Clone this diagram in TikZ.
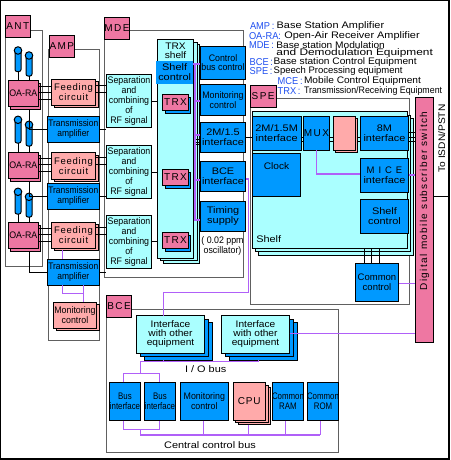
\documentclass[tikz,border=0pt]{standalone}
\usepackage{fontspec}
\setmainfont{Liberation Sans}
\newfontfamily\lsp[LetterSpace=14]{Liberation Sans}
\newfontfamily\lspb[LetterSpace=8]{Liberation Sans}
\newfontfamily\lnar[FakeStretch=.83]{Liberation Sans}
\newfontfamily\ltr[FakeStretch=.89]{Liberation Sans}
\newfontfamily\lmid[FakeStretch=.93]{Liberation Sans}
\newfontfamily\lw[FakeStretch=1.07]{Liberation Sans}
\newfontfamily\lx[FakeStretch=1.15]{Liberation Sans}
\newfontfamily\ly[FakeStretch=1.25]{Liberation Sans}
\definecolor{cpink}{HTML}{EE77A2}
\definecolor{csalm}{HTML}{FFAAAA}
\definecolor{ccyan}{HTML}{AAFFFF}
\definecolor{cblue}{HTML}{0099FF}
\definecolor{cpurp}{HTML}{B060F8}
\definecolor{cgray}{HTML}{606060}
\definecolor{cleg}{HTML}{2050F0}
\tikzset{
  base/.style={draw=black,line width=1pt,inner sep=0pt,outer sep=0pt,align=center,font=\lx\fontsize{9.5}{10}\selectfont},
  pinkb/.style={base,fill=cpink},
  salmb/.style={base,fill=csalm},
  cyanb/.style={base,fill=ccyan},
  blueb/.style={base,fill=cblue},
  blueflat/.style={base,draw=none,fill=cblue},
  tag/.style={pinkb,font=\lsp\fontsize{10}{10}\selectfont},
  grp/.style={draw=cgray,line width=1pt,inner sep=0pt,outer sep=0pt},
  spaced/.style={font=\lspb\fontsize{9.5}{10}\selectfont},
  wide/.style={font=\lw\fontsize{9.5}{10}\selectfont},
  plain/.style={font=\fontsize{9.5}{9.5}\selectfont},
  narrow/.style={font=\lnar\fontsize{9.5}{10}\selectfont},
  trans/.style={font=\ltr\fontsize{9.5}{10}\selectfont},
  mid/.style={font=\lmid\fontsize{9.5}{10}\selectfont},
  midn/.style={font=\lmid\fontsize{9.5}{9}\selectfont},
  extra/.style={font=\lx\fontsize{9.5}{9.5}\selectfont},
  sigl/.style={black,line width=.9pt},
  busl/.style={cpurp,line width=1.4pt},
  txt/.style={inner sep=0pt,outer sep=0pt,align=center,font=\lx\fontsize{9.5}{10}\selectfont},
  legb/.style={inner sep=0pt,outer sep=0pt,anchor=west,text=cleg,font=\lmid\fontsize{10}{9}\selectfont},
  legt/.style={inner sep=0pt,outer sep=0pt,anchor=west,font=\lx\fontsize{9.5}{10}\selectfont},
  legw/.style={inner sep=0pt,outer sep=0pt,anchor=west,font=\lw\fontsize{9.5}{10}\selectfont},
  legp/.style={inner sep=0pt,outer sep=0pt,anchor=west,font=\fontsize{9.5}{10}\selectfont},
  legn/.style={inner sep=0pt,outer sep=0pt,anchor=west,font=\lmid\fontsize{9.5}{10}\selectfont},
}
% [style]{name}{x1}{y1}{x2}{y2}{text}
\newcommand\blk[7][]{%
  \pgfmathsetmacro\bw{#5-#3}\pgfmathsetmacro\bh{#6-#4}%
  \pgfmathsetmacro\bx{(#3+#5)/2}\pgfmathsetmacro\by{(#4+#6)/2}%
  \node[#1,minimum width=\bw pt,minimum height=\bh pt] (#2) at (\bx,\by) {#7};}
% {name}{x}{top}{bottom}
\newcommand\antn[4]{%
  \pgfmathsetmacro\bh{#4-#3-2}\pgfmathsetmacro\by{(#3+#4)/2+1}\pgfmathsetmacro\bc{#3+3.5}%
  \node[base,fill=cblue,minimum width=6pt,minimum height=\bh pt,rounded corners=2pt] (#1) at (#2,\by) {};
  \node[base,fill=cblue,circle,minimum size=7.5pt] (#1k) at (#2,\bc) {};}
\begin{document}
\begin{tikzpicture}[x=1pt,y=-1pt]
\useasboundingbox (0,0) rectangle (450,460);
\fill[white] (0,0) rectangle (450,460);
\node[draw=black,line width=1.4pt,inner sep=0pt,outer sep=0pt,minimum width=449pt,minimum height=459pt] (frame) at (224.5,229.5) {};
% group boxes
\blk[grp]{antg}{5.3}{30.3}{42.7}{266}{}
\blk[grp]{ampg}{48.5}{50}{99.5}{340}{}
\blk[grp]{mdeg}{104.5}{30.5}{243}{277}{}
\blk[grp]{speg}{250.3}{98.3}{409.3}{304}{}
\blk[grp]{bceg}{106.3}{309.3}{338.3}{452}{}
% tags
\blk[tag]{anttag}{5.3}{15.3}{30.3}{37.3}{ANT}
\blk[tag]{amptag}{49.3}{35.3}{74.3}{57.3}{AMP}
\blk[tag]{mdetag}{104.5}{17.5}{129.5}{39.5}{MDE}
\blk[tag]{spetag}{250.3}{85.3}{276}{107.3}{SPE}
\blk[tag]{bcetag}{106.3}{295.3}{131.7}{317.3}{BCE}
% antennas
\antn{a1}{18}{47}{71.5}\antn{b1}{29}{52}{76}
\antn{a2}{18}{116.3}{143}\antn{b2}{29}{121.3}{146}
\antn{a3}{18}{188.3}{214}\antn{b3}{29}{193.3}{217}
% OA-RA
\blk[pinkb]{oa1b}{10.5}{83}{40.7}{109.3}{}
\blk[pinkb,mid]{oa1}{8.3}{80.3}{38.3}{106.7}{OA-RA}
\blk[pinkb]{oa2b}{10.5}{155}{40.7}{181.7}{}
\blk[pinkb,mid]{oa2}{8.3}{152.3}{38.3}{178.7}{OA-RA}
\blk[pinkb]{oa3b}{10.5}{225}{40.7}{251.3}{}
\blk[pinkb,mid]{oa3}{8.3}{222}{38.3}{248.3}{OA-RA}
% feeding
\blk[salmb]{f1b}{54}{81.5}{98.7}{107.7}{}
\blk[salmb,spaced]{f1}{51.3}{79.3}{95.7}{105.7}{Feeding\\circuit}
\blk[salmb]{f2b}{54}{155}{98.7}{181.7}{}
\blk[salmb,spaced]{f2}{51.3}{152.7}{95.7}{179}{Feeding\\circuit}
\blk[salmb]{f3b}{54}{224.5}{98.7}{250.3}{}
\blk[salmb,spaced]{f3}{51.3}{222.3}{95.7}{248.3}{Feeding\\circuit}
% transmission amplifiers
\blk[blueb,trans]{t1}{47.3}{116.3}{99.3}{142.3}{Transmission\\amplifier}
\blk[blueb,trans]{t2}{47.3}{183.3}{99.3}{209.3}{Transmission\\amplifier}
\blk[blueb,trans]{t3}{47.3}{259.3}{99.3}{285.3}{Transmission\\amplifier}
% monitoring (AMP)
\blk[salmb]{mb}{56.5}{304.5}{99.7}{330.7}{}
\blk[salmb,mid]{m}{53.3}{302.3}{96.7}{328.7}{Monitoring\\control}
% separation
\blk[cyanb,mid]{s1}{106.3}{74.3}{151.7}{127.7}{Separation\\and\\combining\\of\\RF signal}
\blk[cyanb,mid]{s2}{106.3}{145.3}{151.7}{198.7}{Separation\\and\\combining\\of\\RF signal}
\blk[cyanb,mid]{s3}{106.3}{215.3}{151.7}{268.3}{Separation\\and\\combining\\of\\RF signal}
% TRX shelf
\blk[cyanb]{sh3}{163}{44.7}{199.3}{263.3}{}
\blk[cyanb]{sh2}{160}{42.3}{197}{260.7}{}
\blk[cyanb]{sh1}{157.3}{39.3}{193.7}{258.3}{}
\node[txt,font=\lw\fontsize{9.5}{9}\selectfont] (shlab) at (175.5,50.5) {TRX\\shelf};
\blk[blueflat,extra]{shc}{156}{60.7}{193.3}{83.5}{Shelf\\control}
\blk[blueb]{tr1b}{165}{97}{190.7}{113.3}{}
\blk[pinkb,font=\lsp\fontsize{10}{10}\selectfont]{tr1}{162.3}{94.3}{188.7}{110.7}{TRX}
\blk[blueb]{tr2b}{165}{172}{190.7}{188.3}{}
\blk[pinkb,font=\lsp\fontsize{10}{10}\selectfont]{tr2}{162.3}{169.3}{188.7}{185.7}{TRX}
\blk[blueb]{tr3b}{165}{235}{190.7}{251}{}
\blk[pinkb,font=\lsp\fontsize{10}{10}\selectfont]{tr3}{162.3}{232.3}{188.7}{248.5}{TRX}
% blue column
\blk[blueb,midn]{cb}{200.3}{46.7}{245.7}{79}{Control\\bus control}
\blk[blueb,mid]{mc}{200.3}{84.3}{245.7}{115}{Monitoring\\control}
\blk[blueb]{i2m}{200.3}{122.7}{245.7}{152.3}{2M/1.5\\interface}
\blk[blueb]{ibc}{200.3}{161}{245.7}{191.7}{BCE\\interface}
\blk[blueb]{tim}{200.3}{201}{245.7}{231.3}{Timing\\supply}
\node[txt,mid] (osc) at (222.5,246.5) {( 0.02 ppm\\oscillator)};
% SPE shelf
\blk[cyanb]{ps3}{258}{118.3}{413.3}{255}{}
\blk[cyanb]{ps2}{255}{115}{410.7}{251.3}{}
\blk[cyanb]{ps1}{252}{111.7}{407.7}{248.3}{}
\blk[blueb,extra]{p2m}{252.3}{116.3}{301}{150.3}{2M/1.5M\\interface}
\blk[blueb,font=\lsp\fontsize{10}{10}\selectfont]{mux}{303.3}{116.3}{329.7}{150.3}{MUX}
\blk[salmb]{pxb}{335}{118.5}{357.3}{152.7}{}
\blk[salmb]{px}{333.3}{116.3}{355.7}{150.3}{}
\blk[blueb,extra]{p8m}{360.3}{116.3}{408.7}{150.3}{8M\\interface}
\blk[blueb,wide]{clk}{252.3}{153.3}{300.7}{196.7}{Clock\\[7pt]\mbox{}}
\blk[blueb,extra]{mice}{360.3}{158.3}{408.7}{192.3}{{\lsp M I C E}\\interface}
\blk[blueb,extra]{psc}{360.3}{199.3}{408.7}{233.3}{Shelf\\control}
\node[txt] (shelf) at (268.7,239.5) {Shelf};
\blk[blueb,plain]{cc}{355.3}{263.3}{398.7}{301.3}{Common\\control}
% switch
\blk[pinkb]{sw}{415.3}{97.3}{433.7}{342.3}{}
\node[txt,rotate=90,font=\lsp\fontsize{10}{10}\selectfont] (swt) at (424.5,201) {Digital mobile subscriber switch};
\node[txt,rotate=90,wide] (isdn) at (441.7,138.5) {To ISDN/PSTN};
\coordinate (edge) at (449,196.7);
% BCE
\blk[blueb]{ia3}{144.3}{322}{212.7}{360.3}{}
\blk[blueb]{ia2}{140.3}{319.3}{208.3}{356.7}{}
\blk[cyanb,font=\lw\fontsize{9.5}{9}\selectfont]{ia}{136.3}{315.7}{204.7}{353.3}{Interface\\with other\\equipment}
\blk[blueb]{ib3}{229.3}{322}{297.7}{360.3}{}
\blk[blueb]{ib2}{225.3}{319.3}{293.7}{356.7}{}
\blk[cyanb,font=\lw\fontsize{9.5}{9}\selectfont]{ib}{221.3}{315.7}{289.7}{353.3}{Interface\\with other\\equipment}
\node[txt] (iob) at (205.7,369.5) {I / O bus};
\blk[blueb,narrow]{bi1}{109.3}{382.3}{140.7}{420.7}{Bus\\interface}
\blk[blueb,narrow]{bi2}{144.3}{382.3}{175.7}{420.7}{Bus\\interface}
\blk[blueb,mid]{bm}{180.3}{382.3}{228.3}{420.7}{Monitoring\\control}
\blk[salmb]{cpu3}{238}{387.3}{270.7}{424.7}{}
\blk[salmb]{cpu2}{235.5}{385}{268}{422.3}{}
\blk[salmb,font=\lspb\fontsize{10}{10}\selectfont]{cpu}{233.3}{382.3}{265}{420.7}{CPU}
\blk[blueb,narrow]{ram}{272.3}{382.3}{303.7}{420.7}{Common\\RAM}
\blk[blueb,narrow]{rom}{307.3}{382.3}{338.7}{420.7}{Common\\ROM}
\node[txt] (cbus) at (210,445) {Central control bus};
% antenna feeds
\foreach \k/\o in {a1/oa1,b1/oa1,a2/oa2,b2/oa2,a3/oa3,b3/oa3}{\draw[sigl] (\k.south) -- (\k.south |- \o.north);}
% OA-RA to feeding, feeding to separation
\foreach \o/\f/\s/\y in {oa1/f1/s1/80.3,oa2/f2/s2/152.3,oa3/f3/s3/222}{
  \foreach \d in {6,12.5,19}{\pgfmathsetmacro\yy{\y+\d}\draw[sigl] (\o.east |- 0,\yy) -- (\f.west |- 0,\yy);}
  \foreach \d in {5.5,12.5}{\pgfmathsetmacro\yy{\y+\d}\draw[sigl] (\f.east |- 0,\yy) -- (\s.west |- 0,\yy);}
}
% OA-RA to transmission, transmission to separation
\foreach \o/\t/\s in {oa1b/t1/s1,oa2b/t2/s2,oa3b/t3/s3}{
  \draw[sigl] (\o.south -| 29.3,0) |- (\t.west);
  \draw[sigl] (\t.east) -- (\t.east -| \s.west);
}
\draw[sigl] (s1.east) -- (s1.east -| sh1.west);
\draw[sigl] (s2.east) -- (s2.east -| sh1.west);
\draw[sigl] (s3.east) -- (s3.east -| sh1.west);
% shelf to 2M/1.5
\foreach \y in {139,142,144.5}{\draw[sigl,line width=.7pt] (sh1.east |- 0,\y) -- (i2m.west |- 0,\y);}
% SPE signals
\draw[sigl] (i2m.east |- 0,137.3) -- (p2m.west |- 0,137.3);
\foreach \y in {137.3,141.7}{
  \draw[sigl] (p2m.east |- 0,\y) -- (mux.west |- 0,\y);
  \draw[sigl] (mux.east |- 0,\y) -- (px.west |- 0,\y);
  \draw[sigl] (pxb.east |- 0,\y) -- (p8m.west |- 0,\y);
}
\foreach \y in {132.3,137,141.7}{\draw[sigl] (p8m.east |- 0,\y) -- (sw.west |- 0,\y);}
\foreach \x in {364.3,371.7,379.3}{\draw[sigl] (\x,0 |- ps1.south) -- (\x,0 |- cc.north);}
\draw[sigl] (sw.east |- edge) -- (edge);
% purple buses
\draw[busl] (shc.east |- 0,64) -- (195,64) -- (195,220) -- (tim.west |- 0,220);
\foreach \y in {64,101,135,180}{\draw[busl] (195,\y) -- (cb.west |- 0,\y);}
\draw[busl] (ibc.east |- 0,179) -| (248.7,292.3) -| (ia.north -| 163.3,0);
\draw[busl] (mux.south -| 316.3,0) |- (mice.west |- 0,174);
\draw[busl] (mice.east |- 0,175) -- (sw.west |- 0,175);
\draw[busl] (cc.east |- 0,283.3) -- (sw.west |- 0,283.3);
\draw[busl] (ib.east |- 0,333.3) -- (sw.west |- 0,333.3);
\draw[busl] (f3b.south -| 62.7,0) -- (t3.north -| 62.7,0);
\draw[busl] (t3.south -| 62.7,0) |- (83.3,293.3);
\draw[busl] (t3.south -| 83.3,0) -- (m.north -| 83.3,0);
% I/O bus
\coordinate (iol) at (140.3,361.7);
\coordinate (iot) at (140.3,373.3);
\draw[busl] (ia3.south -| 163.3,0) -- (163.3,361.7);
\draw[busl] (ib3.south -| 258.3,0) -- (258.3,361.7) -- (iol) -- (iot);
\draw[busl] (bi1.north -| 123.3,0) |- (iot) -| (bi2.north -| 159.3,0);
% central bus
\coordinate (cbl) at (140.3,435);
\coordinate (bbm) at (140.3,429.3);
\draw[busl] (bi1.south -| 123.3,0) |- (bbm) -| (bi2.south -| 159.3,0);
\draw[busl] (bbm) -- (cbl) -- (320.3,435);
\draw[busl] (bm.south -| 203.3,0) -- (203.3,435);
\draw[busl] (cpu3.south -| 248.3,0) -- (248.3,435);
\draw[busl] (ram.south -| 285.3,0) -- (285.3,435);
\draw[busl] (rom.south -| 320.3,0) -- (320.3,435);
% legend
\node[legb] (l1) at (250,26.3) {AMP\,:};
\node[legt] (l1t) at (276.7,26.3) {Base Station Amplifier};
\node[legb] (l2) at (249,36) {OA-RA:};
\node[legt] (l2t) at (284.3,36) {Open-Air Receiver Amplifier};
\node[legb] (l3) at (249,45.3) {MDE\,:};
\node[legw,anchor=north west,align=left,font=\lw\fontsize{9.5}{7.5}\selectfont] (l3t) at (276.4,41.3) {Base station Modulation\\[0pt]{\ly and Demodulation Equipment}};
\node[legb] (l4) at (249.7,61.7) {BCE\,:};
\node[legw] (l4t) at (273.7,61.7) {Base station Control Equipment};
\node[legb] (l5) at (249.7,71) {SPE\,:};
\node[legp] (l5t) at (273.7,71) {Speech Processing equipment};
\node[legb] (l6) at (277.7,81.3) {MCE\,:};
\node[legw] (l6t) at (304,81.3) {Mobile Control Equipment};
\node[legb] (l7) at (277.7,91) {TRX\,:};
\node[legn] (l7t) at (304,91) {Transmission/Receiving Equipment};
\end{tikzpicture}
\end{document}
